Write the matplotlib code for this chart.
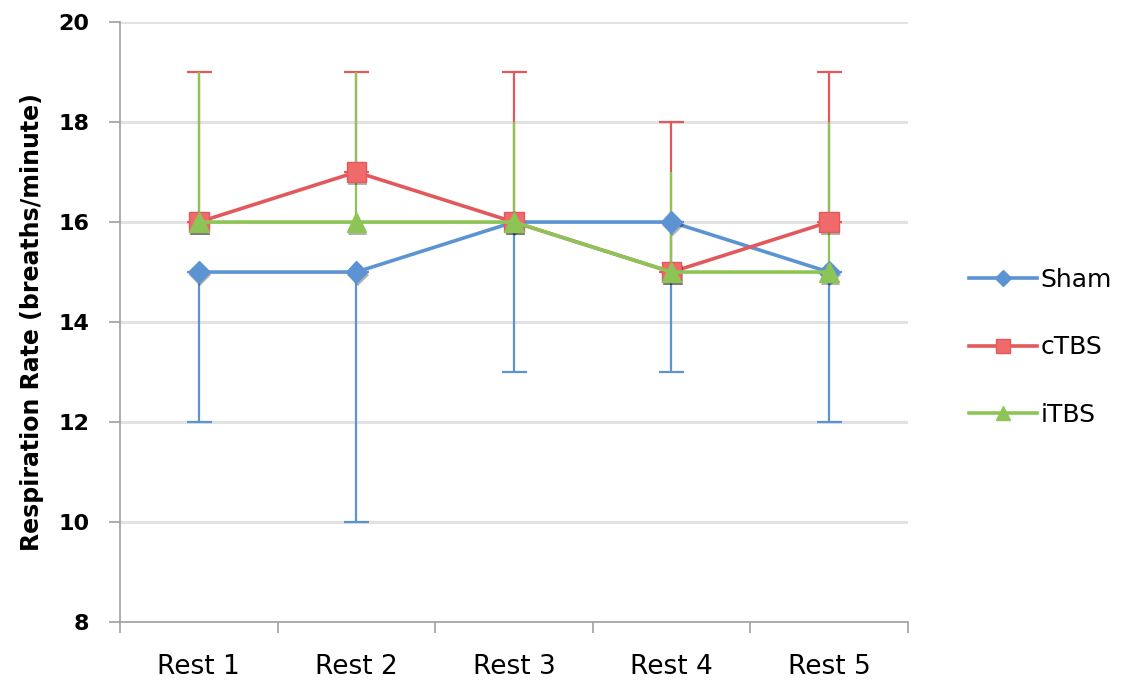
import numpy as np
import matplotlib
matplotlib.use("Agg")
import matplotlib.pyplot as plt
import matplotlib.patheffects as pe
from matplotlib.lines import Line2D

plt.rcParams["font.family"] = ["DejaVu Sans"]

categories = ["Rest 1", "Rest 2", "Rest 3", "Rest 4", "Rest 5"]

sham = [15, 15, 16, 16, 15]
sham_low = [3, 5, 3, 3, 3]

ctbs = [16, 17, 16, 15, 16]
ctbs_up = [3, 2, 3, 3, 3]

itbs = [16, 16, 16, 15, 15]
itbs_up = [3, 3, 2, 2, 3]

BLUE = "#5b93d3"
RED = "#e2595c"
RED_FILL = "#f06a6c"
GREEN = "#8cc556"

x = np.arange(len(categories))
zeros = [0] * len(categories)

fig = plt.figure(figsize=(11.22, 6.81), dpi=100)
ax = fig.add_axes([0.107, 0.0866, 0.702, 0.881])

shadow = [pe.SimplePatchShadow(offset=(1, -2), alpha=0.3, shadow_rgbFace="black"), pe.Normal()]

# one-sided error bars, as in the Excel original
ax.errorbar(x, sham, yerr=[sham_low, zeros], fmt="none", ecolor=BLUE,
            elinewidth=1.6, capsize=9, capthick=1.6, zorder=2)
ax.errorbar(x, ctbs, yerr=[zeros, ctbs_up], fmt="none", ecolor=RED,
            elinewidth=1.6, capsize=9, capthick=1.6, zorder=2)
ax.errorbar(x, itbs, yerr=[zeros, itbs_up], fmt="none", ecolor=GREEN,
            elinewidth=1.6, capsize=0, zorder=2.1)

series = [
    (sham, BLUE, BLUE, "D", 11),
    (ctbs, RED, RED_FILL, "s", 14),
    (itbs, GREEN, GREEN, "^", 14),
]
for i, (vals, col, fill, mk, ms) in enumerate(series):
    ax.plot(x, vals, color=col, lw=2.6, zorder=3 + i)
    ax.plot(x, vals, ls="none", marker=mk, ms=ms, mfc=fill, mec=col, mew=1,
            zorder=3.5 + i, path_effects=shadow)

ax.set_xlim(-0.5, len(categories) - 0.5)
ax.set_ylim(8, 20)
ax.set_yticks(np.arange(8, 21, 2))
ax.set_yticklabels([str(v) for v in range(8, 21, 2)], fontsize=16, fontweight="bold")
ax.set_xticks(x)
ax.set_xticklabels(categories, fontsize=19)
ax.set_xticks(np.arange(-0.5, len(categories), 1), minor=True)
ax.tick_params(axis="x", which="major", length=0, pad=23)
ax.tick_params(axis="x", which="minor", length=8, width=1.2, color="#a0a0a0", direction="out")
ax.tick_params(axis="y", length=8, width=1.2, color="#a0a0a0", direction="out", pad=14)

ax.grid(axis="y", color="#e2e2e2", lw=2.2)
ax.set_axisbelow(True)
for side in ["top", "right"]:
    ax.spines[side].set_visible(False)
for side in ["left", "bottom"]:
    ax.spines[side].set_color("#a0a0a0")
    ax.spines[side].set_linewidth(1.2)

ax.set_ylabel("Respiration Rate (breaths/minute)", fontsize=17, fontweight="bold", labelpad=10)

handles = [
    Line2D([], [], color=BLUE, lw=2.6, marker="D", ms=8, mfc=BLUE, mec=BLUE),
    Line2D([], [], color=RED, lw=2.6, marker="s", ms=10, mfc=RED_FILL, mec=RED),
    Line2D([], [], color=GREEN, lw=2.6, marker="^", ms=10, mfc=GREEN, mec=GREEN),
]
fig.legend(handles, ["Sham", "cTBS", "iTBS"], loc="center left",
           bbox_to_anchor=(0.864, 0.49), frameon=False, borderpad=0, borderaxespad=0,
           fontsize=18, labelspacing=1.75, handlelength=2.7, handletextpad=0.15)

fig.savefig("out.png", dpi=100)
